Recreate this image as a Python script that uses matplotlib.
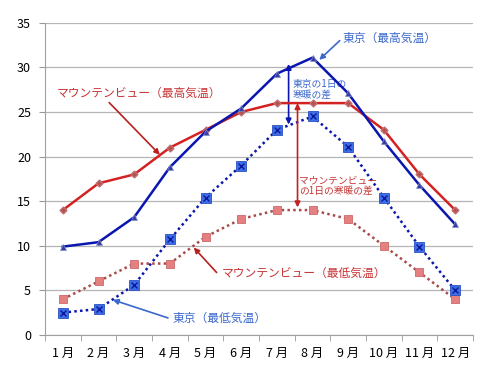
import numpy as np
import matplotlib
matplotlib.use('Agg')
import matplotlib.pyplot as plt

plt.rcParams['font.family'] = ['Noto Sans CJK JP', 'DejaVu Sans']

# monthly temperatures
months = ['1 月', '2 月', '3 月', '4 月', '5 月', '6 月',
          '7 月', '8 月', '9 月', '10 月', '11 月', '12 月']
mv_high = [14, 17, 18, 21, 23, 25, 26, 26, 26, 23, 18, 14]
tk_high = [9.9, 10.4, 13.2, 18.8, 22.8, 25.4, 29.3, 31.1, 27.1, 21.7, 16.8, 12.4]
tk_low = [2.5, 2.9, 5.6, 10.7, 15.4, 19.0, 23.0, 24.5, 21.1, 15.4, 9.9, 5.0]
mv_low = [4, 6, 8, 8, 11, 13, 14, 14, 13, 10, 7, 4]

RED = '#d42222'
NAVY = '#0b16b0'
TXT_RED = '#c83535'
TXT_BLUE = '#3b68cc'

fig = plt.figure(figsize=(5, 3.75), dpi=100)
ax = fig.add_axes([0.09, 0.107, 0.856, 0.832])

x = np.arange(len(months))

ax.plot(x, mv_low, color='#a84a4a', lw=1.8, ls=(0, (1, 1.3)), zorder=3)
ax.plot(x, mv_low, ls='none', marker='s', ms=6, mfc='#e58080',
        mec='#cc6a6a', mew=0.6, zorder=4)

ax.plot(x, tk_low, color=NAVY, lw=1.8, ls=(0, (1, 1.3)), zorder=3)
ax.plot(x, tk_low, ls='none', marker='s', ms=6.5, mfc='#3d6ee8',
        mec='#2a50c0', mew=0.6, zorder=4)
ax.plot(x, tk_low, ls='none', marker='x', ms=5, mec='#0a1a9a', mew=1.0, zorder=5)

ax.plot(x, mv_high, color=RED, lw=1.8, marker='D', ms=3.5, mfc='#b85050',
        mec='#c07070', zorder=5)
ax.plot(x, tk_high, color=NAVY, lw=1.8, marker='^', ms=4, mfc='#3a3aa8',
        mec='#8090c0', mew=0.5, zorder=6)

ax.set_xlim(-0.5, 11.5)
ax.set_ylim(0, 35)
ax.set_yticks(np.arange(0, 36, 5))
ax.set_xticks(x)
ax.set_xticklabels(months)
ax.set_xticks(np.arange(-0.5, 12, 1), minor=True)
ax.tick_params(axis='x', which='major', length=0, pad=9, labelsize=9)
ax.tick_params(axis='x', which='minor', length=4, color='#999999')
ax.tick_params(axis='y', length=4, color='#999999', labelsize=9, pad=6)

ax.grid(axis='y', color='#b5b5b5', lw=0.9)
ax.set_axisbelow(True)
for s in ['top', 'right']:
    ax.spines[s].set_visible(False)
for s in ['left', 'bottom']:
    ax.spines[s].set_color('#a0a0a0')

arrow = dict(arrowstyle='-|>', lw=1.2, mutation_scale=8, shrinkA=0, shrinkB=0)

ax.annotate('東京（最高気温）', xy=(7.19, 30.85), xytext=(7.84, 33.3),
            color=TXT_BLUE, fontsize=8.5, va='center', ha='left',
            arrowprops=dict(arrow, color=TXT_BLUE, relpos=(0, 0.5)))
ax.annotate('マウンテンビュー（最高気温）', xy=(2.72, 20.2), xytext=(-0.16, 27.1),
            color=TXT_RED, fontsize=8.5, va='center', ha='left',
            arrowprops=dict(arrow, color='#b82020', relpos=(0.3, 0)))
ax.annotate('マウンテンビュー（最低気温）', xy=(3.67, 9.8), xytext=(4.45, 6.85),
            color=TXT_RED, fontsize=8.5, va='center', ha='left',
            arrowprops=dict(arrow, color='#b82020', relpos=(-0.03, 0.6)))
ax.annotate('東京（最低気温）', xy=(1.40, 3.93), xytext=(3.08, 1.9),
            color=TXT_BLUE, fontsize=8.5, va='center', ha='left',
            arrowprops=dict(arrow, color=TXT_BLUE, relpos=(-0.05, 0.5)))

# daily range arrows
dbl = dict(arrowstyle='<|-|>', lw=1.2, mutation_scale=8, shrinkA=0, shrinkB=0)
ax.annotate('', xy=(6.33, 30.4), xytext=(6.33, 23.6),
            arrowprops=dict(dbl, color=NAVY))
ax.annotate('', xy=(6.58, 26.0), xytext=(6.58, 14.3),
            arrowprops=dict(dbl, color='#c42020'))
ax.text(6.44, 28.7, '東京の1日の\n寒暖の差', color=TXT_BLUE, fontsize=7,
        va='top', ha='left', linespacing=1.1)
ax.text(6.63, 17.9, 'マウンテンビュー\nの1日の寒暖の差', color=TXT_RED, fontsize=7,
        va='top', ha='left', linespacing=1.1)

fig.savefig('out.png', dpi=100)
